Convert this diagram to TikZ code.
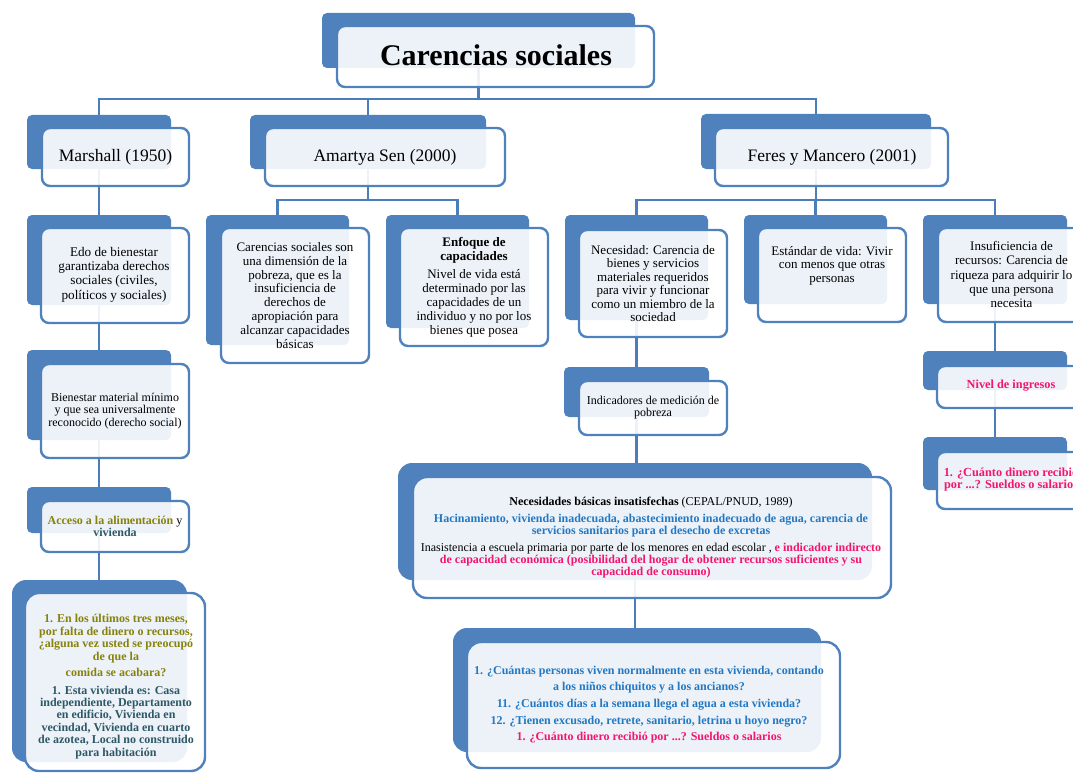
\documentclass[tikz,border=0pt]{standalone}
\usepackage{fontspec}
\setmainfont{Liberation Serif}
\usetikzlibrary{backgrounds}
\definecolor{sablue}{RGB}{79,129,189}
\definecolor{lnblue}{RGB}{74,126,187}
\definecolor{txtblue}{RGB}{35,120,195}
\definecolor{txtpink}{RGB}{245,20,110}
\definecolor{txtolive}{RGB}{135,130,10}
\definecolor{txtteal}{RGB}{45,88,102}
\newcommand{\setfs}[2]{\fontsize{#1pt}{#2pt}\selectfont}
\newcommand{\mkbox}[6]{%
  \pgfmathsetmacro{\mkCX}{(#3+#5)/2}%
  \pgfmathsetmacro{\mkCY}{(#4+#6)/2}%
  \pgfmathsetmacro{\mkW}{#5-#3}%
  \pgfmathsetmacro{\mkH}{#6-#4}%
  \node[#1, minimum width=\mkW pt, minimum height=\mkH pt] (#2) at (\mkCX,\mkCY) {};}
\tikzset{
  backbox/.style={fill=sablue, draw=none, rounded corners=5pt, inner sep=0pt, outer sep=0pt},
  frontbox/.style={fill=white, fill opacity=0.9, draw=sablue, draw opacity=1, line width=2.4pt, rounded corners=8pt, inner sep=0pt, outer sep=0pt},
  bigback/.style={backbox, rounded corners=14pt},
  bigfront/.style={frontbox, rounded corners=14pt},
  conn/.style={draw=lnblue, line width=2.6pt},
  txt/.style={align=center, inner sep=0pt, text=black},
}
\begin{document}
\begin{tikzpicture}[x=1pt, y=-1pt]
\useasboundingbox (0,0) rectangle (1073,773);
\clip (0,0) rectangle (1073,773);
% ---------- boxes ----------
\mkbox{backbox}{title}{322}{13}{635}{68}
\mkbox{frontbox}{titlef}{337}{26}{654}{87}
\node[txt, font=\setfs{30}{32}\bfseries] (titlet) at (496,55) {Carencias sociales};

\mkbox{backbox}{marshall}{27}{115}{171}{169}
\mkbox{frontbox}{marshallf}{42}{128}{189}{186}
\node[txt, font=\setfs{17.5}{20}] (marshallt) at (115.5,157) {Marshall (1950)};

\mkbox{backbox}{sen}{250}{115}{486}{169}
\mkbox{frontbox}{senf}{265}{128}{505}{186}
\node[txt, font=\setfs{17.5}{20}] (sent) at (385,157) {Amartya Sen (2000)};

\mkbox{backbox}{feres}{701}{114}{931}{169}
\mkbox{frontbox}{feresf}{715}{128}{948}{186}
\node[txt, font=\setfs{17.5}{20}] (ferest) at (832,157) {Feres y Mancero (2001)};

\mkbox{backbox}{edo}{27}{215}{171}{305}
\mkbox{frontbox}{edof}{41}{228}{189}{323}
\node[txt, font=\setfs{13.2}{14.3}] (edot) at (114,274.5) {Edo de bienestar\\garantizaba derechos\\sociales (civiles,\\políticos y sociales)};

\mkbox{backbox}{carsen}{206}{215}{349}{345}
\mkbox{frontbox}{carsenf}{221}{228}{369}{363}
\node[txt, font=\setfs{13}{13.9}] (carsent) at (295,295.5) {Carencias sociales son\\una dimensión de la\\pobreza, que es la\\insuficiencia de\\derechos de\\apropiación para\\alcanzar capacidades\\básicas};

\mkbox{backbox}{enfoque}{386}{215}{529}{328}
\mkbox{frontbox}{enfoquef}{400}{228}{548}{346}
\node[txt, font=\setfs{13}{13.8}] (enfoquet) at (474,287) {\textbf{Enfoque de}\\\textbf{capacidades}\\[5pt]Nivel de vida está\\determinado por las\\capacidades de un\\individuo y no por los\\bienes que posea};

\mkbox{backbox}{necesidad}{565}{215}{708}{320}
\mkbox{frontbox}{necesidadf}{579}{230}{727}{337}
\node[txt, font=\setfs{13}{13.4}] (necesidadt) at (653,283.5) {Necesidad: Carencia de\\bienes y servicios\\materiales requeridos\\para vivir y funcionar\\como un miembro de la\\sociedad};

\mkbox{backbox}{estandar}{744}{215}{887}{304}
\mkbox{frontbox}{estandarf}{758}{228}{906}{322}
\node[txt, font=\setfs{13}{13.5}] (estandart) at (832,265.5) {Estándar de vida: Vivir\\con menos que otras\\personas};

\mkbox{backbox}{insuf}{923}{215}{1067}{304}
\mkbox{frontbox}{insuff}{938}{228}{1086}{322}
\node[txt, font=\setfs{13}{14.2}] (insuft) at (1011.5,274.5) {Insuficiencia de\\recursos: Carencia de\\riqueza para adquirir lo\\que una persona\\necesita};

\mkbox{backbox}{bienestar}{27}{350}{171}{440}
\mkbox{frontbox}{bienestarf}{41}{364}{189}{458}
\node[txt, font=\setfs{12}{12.3}] (bienestart) at (115,411) {Bienestar material mínimo\\y que sea universalmente\\reconocido (derecho social)};

\mkbox{backbox}{acceso}{27}{487}{171}{533}
\mkbox{frontbox}{accesof}{41}{501}{189}{552}
\node[txt, font=\setfs{12}{12}] (accesot) at (115,526) {\textcolor{txtolive}{\textbf{Acceso a la alimentación}} y\\\textcolor{txtteal}{\textbf{vivienda}}};

\mkbox{bigback}{encuesta}{12}{580}{187}{762}
\mkbox{bigfront}{encuestaf}{25}{593}{205}{771}
\node[txt, font=\setfs{12}{12.4}\bfseries] (encuestat) at (116,686.5) {\textcolor{txtolive}{1. En los últimos tres meses,}\\\textcolor{txtolive}{por falta de dinero o recursos,}\\\textcolor{txtolive}{¿alguna vez usted se preocupó}\\\textcolor{txtolive}{de que la}\\[3.6pt]\textcolor{txtolive}{comida se acabara?}\\[5.6pt]\textcolor{txtteal}{1. Esta vivienda es: Casa}\\\textcolor{txtteal}{independiente, Departamento}\\\textcolor{txtteal}{en edificio, Vivienda en}\\\textcolor{txtteal}{vecindad, Vivienda en cuarto}\\\textcolor{txtteal}{de azotea, Local no construido}\\\textcolor{txtteal}{para habitación}};

\mkbox{backbox}{indicadores}{564}{367}{709}{417}
\mkbox{frontbox}{indicadoresf}{579}{381}{727}{435}
\node[txt, font=\setfs{12}{12}] (indicadorest) at (653,408) {Indicadores de medición de\\pobreza};

\mkbox{bigback}{nbi}{398}{463}{872}{580}
\mkbox{bigfront}{nbif}{413}{477}{891}{598}
\node[txt, font=\setfs{12}{12}] (nbit) at (651,538) {\textbf{Necesidades básicas insatisfechas} (CEPAL/PNUD, 1989)\\[5pt]\textcolor{txtblue}{\textbf{Hacinamiento, vivienda inadecuada, abastecimiento inadecuado de agua, carencia de}}\\\textcolor{txtblue}{\textbf{servicios sanitarios para el desecho de excretas}}\\[5pt]Inasistencia a escuela primaria por parte de los menores en edad escolar , \textcolor{txtpink}{\textbf{e indicador indirecto}}\\\textcolor{txtpink}{\textbf{de capacidad económica (posibilidad del hogar de obtener recursos suficientes y su}}\\\textcolor{txtpink}{\textbf{capacidad de consumo)}}};

\mkbox{bigback}{preguntas}{453}{628}{821}{752}
\mkbox{bigfront}{preguntasf}{467}{642}{840}{768}
\node[txt, font=\setfs{12}{12}\bfseries] (preguntast) at (649,704.5) {\textcolor{txtblue}{1. ¿Cuántas personas viven normalmente en esta vivienda, contando}\\[4.7pt]\textcolor{txtblue}{a los niños chiquitos y a los ancianos?}\\[4.7pt]\textcolor{txtblue}{11. ¿Cuántos días a la semana llega el agua a esta vivienda?}\\[4.7pt]\textcolor{txtblue}{12. ¿Tienen excusado, retrete, sanitario, letrina u hoyo negro?}\\[4.7pt]\textcolor{txtpink}{1. ¿Cuánto dinero recibió por ...? Sueldos o salarios}};

\mkbox{backbox}{nivel}{923}{351}{1067}{390}
\mkbox{frontbox}{nivelf}{937}{366}{1086}{408}
\node[txt, font=\setfs{12.3}{12.3}\bfseries, text=txtpink] (nivelt) at (1011,386) {Nivel de ingresos};

\mkbox{backbox}{dinero}{923}{437}{1067}{490}
\mkbox{frontbox}{dinerof}{937}{452}{1086}{509}
\node[txt, font=\setfs{12.3}{12}\bfseries, text=txtpink] (dinerot) at (1011,480) {1. ¿Cuánto dinero recibió\\por ...? Sueldos o salarios};

% ---------- connectors (behind boxes) ----------
\begin{scope}[on background layer]
\coordinate (bus1) at (478.5,99);
\coordinate (bus2) at (368,200);
\coordinate (bus3) at (816,200);
\draw[conn] (title.center) -- (bus1);
\draw[conn] (marshall.center) |- (bus1);
\draw[conn] (sen.center) |- (bus1);
\draw[conn] (feres.center) |- (bus1);
\draw[conn] (sen.center) -- (bus2);
\draw[conn] (carsen.center) |- (bus2);
\draw[conn] (enfoque.center) |- (bus2);
\draw[conn] (feres.center) -- (bus3);
\draw[conn] (necesidad.center) |- (bus3);
\draw[conn] (estandar.center) |- (bus3);
\draw[conn] (insuf.center) |- (bus3);
\draw[conn] (marshall.center) -- (edo.center);
\draw[conn] (edo.center) -- (bienestar.center);
\draw[conn] (bienestar.center) -- (acceso.center);
\draw[conn] (acceso.center) -- (acceso.center |- encuesta.center);
\draw[conn] (necesidad.center) -- (indicadores.center);
\draw[conn] (indicadores.center) -- (indicadores.center |- nbi.center);
\draw[conn] (nbi.center) -- (nbi.center |- preguntas.center);
\draw[conn] (insuf.center) -- (nivel.center);
\draw[conn] (nivel.center) -- (dinero.center);
\end{scope}
\end{tikzpicture}
\end{document}
